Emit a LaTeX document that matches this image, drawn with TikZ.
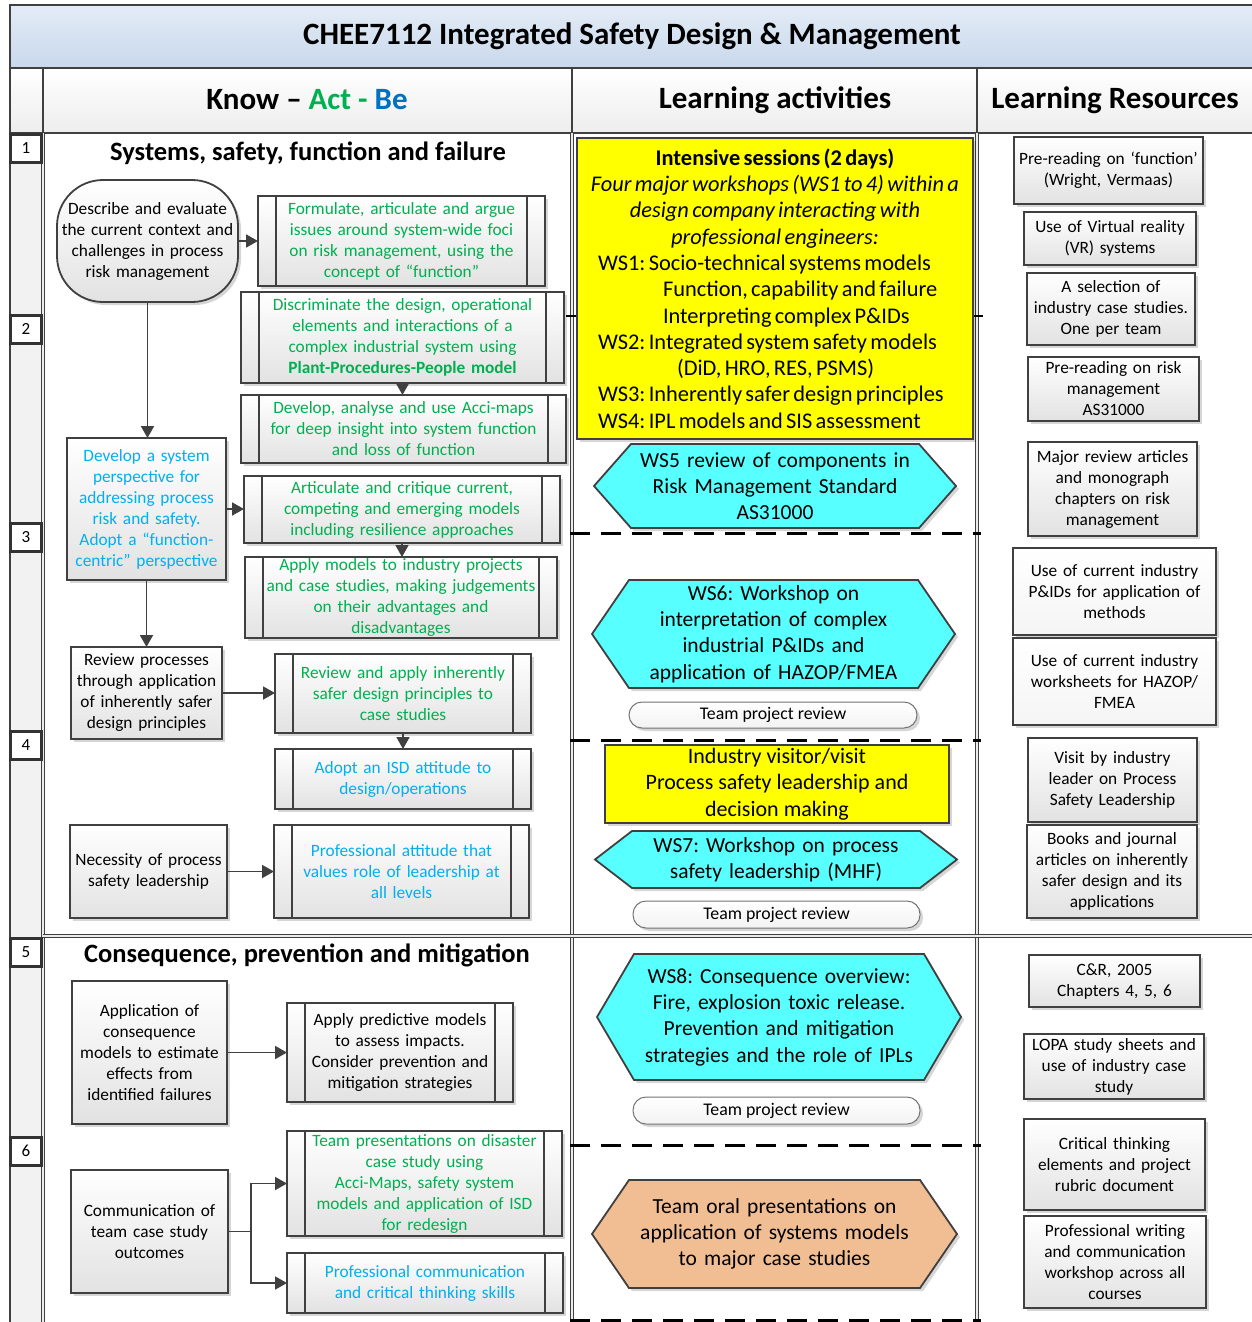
\documentclass[tikz,border=0pt]{standalone}
\usepackage{fontspec}
\setmainfont{Carlito}
\usetikzlibrary{arrows.meta,shadows,calc}
\pgfdeclarelayer{background}
\pgfsetlayers{background,main}
\frenchspacing

\definecolor{linec}{RGB}{64,64,64}
\definecolor{actgreen}{RGB}{0,176,80}
\definecolor{beblue}{RGB}{0,112,192}
\definecolor{txtblue}{RGB}{0,176,240}
\definecolor{hexcyan}{RGB}{88,255,255}
\definecolor{hexorange}{RGB}{241,190,148}
\definecolor{hexyellow}{RGB}{255,255,0}
\definecolor{boxg}{RGB}{226,226,226}
\definecolor{bandtop}{RGB}{228,236,246}
\definecolor{bandbot}{RGB}{200,216,236}

\newcommand\fsbody{\fontsize{17.3}{21}\selectfont}
\newcommand\fsbig{\fontsize{21.5}{26.3}\selectfont}
\newcommand\fsyellow{\fontsize{22.4}{26.3}\selectfont}

% hexagon outline drawn behind a named node
\newcommand\hexshape[3]{%
  \begin{pgfonlayer}{background}
    \filldraw[draw=linec, line width=1.8pt, fill=#2, softshadow]
      (#1.west) -- ([xshift=#3]#1.north west) -- ([xshift=-#3]#1.north east)
      -- (#1.east) -- ([xshift=-#3]#1.south east) -- ([xshift=#3]#1.south west) -- cycle;
  \end{pgfonlayer}}

\tikzset{
  every node/.style={inner sep=0pt, outer sep=0pt},
  softshadow/.style={drop shadow={shadow xshift=3pt, shadow yshift=-3pt, fill=black, opacity=0.16}},
  shadebox/.style={top color=white, bottom color=boxg},
  plainbox/.style={draw=linec, line width=1.8pt, shadebox, softshadow, align=center, font=\fsbody},
  procbox/.style={plainbox,
    path picture={\draw[linec, line width=1.8pt]
      ([xshift=18pt]path picture bounding box.north west) -- ([xshift=18pt]path picture bounding box.south west)
      ([xshift=-18pt]path picture bounding box.north east) -- ([xshift=-18pt]path picture bounding box.south east);}},
  resbox/.style={plainbox},
  lightres/.style={plainbox, bottom color=black!4},
  hexnode/.style={align=center, font=\fsbig},
  ybox/.style={draw=linec, line width=1.8pt, fill=hexyellow, softshadow},
  pill/.style={draw=black!55, line width=1pt, rounded corners=13pt, top color=white, bottom color=black!5, softshadow, font=\fontsize{17.8}{21}\selectfont},
  flow/.style={draw=linec, line width=1.8pt, -{Triangle[length=12pt,width=13pt]}},
  gridline/.style={draw=linec, line width=0.8pt, double=black!8, double distance=2.5pt},
  thinline/.style={draw=linec, line width=1.5pt},
  dashline/.style={draw=black, line width=3pt, dash pattern=on 20pt off 11pt},
  numbox/.style={draw=black!80, line width=3pt, fill=white, minimum width=31, minimum height=28, font=\fontsize{17}{20}\selectfont},
  headcell/.style={draw=linec, line width=1.5pt, top color=white, bottom color=black!7},
  headtext/.style={font=\fontsize{31}{35}\selectfont\bfseries},
  sectext/.style={font=\fontsize{26.5}{30}\selectfont\bfseries},
}

\begin{document}
\begin{tikzpicture}[x=1pt,y=-1pt]
\useasboundingbox (0,0) rectangle (1252,1322);
\begin{pgfonlayer}{background}
  \fill[white] (0,0) rectangle (1252,1322);
\end{pgfonlayer}

% ---------- table frame ----------
\fill[black!5] (10,133) rectangle (43,1330);
\node[draw=linec, line width=1.5pt, top color=bandtop, bottom color=bandbot,
      minimum width=1250, minimum height=63, anchor=north west] (band) at (10,5) {};
\node[headtext] (title) at (632,36) {CHEE7112 Integrated Safety Design \& Management};

\node[headcell, minimum width=33, minimum height=65, anchor=north west] (lanehead) at (10,68) {};
\node[headcell, minimum width=529, minimum height=65, anchor=north west] (knowhead) at (43,68) {};
\node[headcell, minimum width=405, minimum height=65, anchor=north west] (acthead) at (572,68) {};
\node[headcell, minimum width=285, minimum height=65, anchor=north west] (reshead) at (977,68) {};
\node[headtext] (knowtxt) at (307,100) {Know -- \textcolor{actgreen}{Act - }\textcolor{beblue}{Be}};
\node[headtext] (acttxt) at (775,100) {Learning activities};
\node[headtext] (restxt) at (1115,100) {Learning Resources};

\draw[thinline] (10,133) -- (10,1330);
\draw[gridline] (43,133) -- (43,1330);
\draw[gridline] (572,133) -- (572,1330);
\draw[gridline] (977,133) -- (977,1330);
\draw[gridline] (43,936) -- (1260,936);

% lane markers
\draw[line width=2.5pt] (566,316) -- (578,316);
\draw[line width=2.5pt] (971,316) -- (983,316);

\node[numbox] (n1) at (26,148.5) {1};
\node[numbox] (n2) at (26,329) {2};
\node[numbox] (n3) at (26,537) {3};
\node[numbox] (n4) at (26,745) {4};
\node[numbox] (n5) at (26,952) {5};
\node[numbox] (n6) at (26,1151) {6};

% phase separators in the activity column
\draw[dashline] (570,533) -- (981,533);
\draw[dashline] (570,740) -- (981,740);
\draw[dashline] (570,1145) -- (981,1145);
\draw[dashline] (570,1320) -- (981,1320);

% ---------- Know - Act - Be ----------
\node[sectext] (sec1) at (308,153) {Systems, safety, function and failure};
\node[sectext] (sec2) at (307,955) {Consequence, prevention and mitigation};

\node[plainbox, rounded corners=46pt, minimum width=181, minimum height=122, text width=177] (desc) at (147.5,241)
  {Describe and evaluate\\the current context and\\challenges in process\\risk management};
\node[procbox, text=actgreen, minimum width=287, minimum height=90, text width=247] (form) at (401.5,241)
  {Formulate, articulate and argue\\issues around system-wide foci\\on risk management, using the\\concept of “function”};
\node[procbox, text=actgreen, minimum width=323, minimum height=91, text width=284] (disc) at (402.5,337.5)
  {Discriminate the design, operational\\elements and interactions of a\\complex industrial system using\\\textbf{Plant-Procedures-People model}};
\node[procbox, text=actgreen, minimum width=325, minimum height=68, text width=287] (acci) at (403.5,429)
  {Develop, analyse and use Acci-maps\\for deep insight into system function\\and loss of function};
\node[plainbox, text=txtblue, minimum width=159, minimum height=142, text width=155] (sys) at (146.5,509)
  {Develop a system\\perspective for\\addressing process\\risk and safety.\\Adopt a “function-\\centric” perspective};
\node[procbox, text=actgreen, minimum width=316, minimum height=67, text width=278] (artic) at (402,509.5)
  {Articulate and critique current,\\competing and emerging models\\including resilience approaches};
\node[procbox, text=actgreen, minimum width=312, minimum height=81, text width=278] (apply) at (401,597.5)
  {Apply models to industry projects\\and case studies, making judgements\\on their advantages and\\disadvantages};
\node[plainbox, minimum width=151, minimum height=92, text width=149] (review) at (146.5,693)
  {Review processes\\through application\\of inherently safer\\design principles};
\node[procbox, text=actgreen, minimum width=256, minimum height=79, text width=218] (rapply) at (403,693.5)
  {Review and apply inherently\\safer design principles to\\case studies};
\node[procbox, text=txtblue, minimum width=256, minimum height=60, text width=218] (adopt) at (403,779)
  {Adopt an ISD attitude to\\design/operations};
\node[plainbox, minimum width=157, minimum height=93, text width=155] (nec) at (148.5,871.5)
  {Necessity of process\\safety leadership};
\node[procbox, text=txtblue, minimum width=255, minimum height=93, text width=217] (prof) at (401.5,871.5)
  {Professional attitude that\\values role of leadership at\\all levels};

\node[plainbox, minimum width=155, minimum height=143, text width=153] (appcons) at (149.5,1052.5)
  {Application of\\consequence\\models to estimate\\effects from\\identified failures};
\node[procbox, minimum width=226, minimum height=99, text width=190] (pred) at (400,1052.5)
  {Apply predictive models\\to assess impacts.\\Consider prevention and\\mitigation strategies};
\node[plainbox, minimum width=157, minimum height=123, text width=155] (comm) at (149.5,1231.5)
  {Communication of\\team case study\\outcomes};
\node[procbox, text=actgreen, minimum width=275, minimum height=105, text width=238] (teamp) at (424.5,1183.5)
  {Team presentations on disaster\\case study using\\Acci-Maps, safety system\\models and application of ISD\\for redesign};
\node[procbox, text=txtblue, minimum width=276, minimum height=60, text width=238] (profc) at (425,1283)
  {Professional communication\\and critical thinking skills};

% connectors
\draw[flow] (desc.east) -- (form.west);
\draw[flow] (desc.south) -- (desc.south |- sys.north);
\draw[flow] (disc.south) -- (disc.south |- acci.north);
\draw[flow] (sys.east) -- (sys.east -| artic.west);
\draw[flow] (artic.south) -- (artic.south |- apply.north);
\draw[flow] (sys.south) -- (sys.south |- review.north);
\draw[flow] (review.east) -- (review.east -| rapply.west);
\draw[flow] (rapply.south) -- (rapply.south |- adopt.north);
\draw[flow] (nec.east) -- (nec.east -| prof.west);
\draw[flow] (appcons.east) -- (appcons.east -| pred.west);
\coordinate (split) at (251,1231.5);
\draw[flow] (comm.east) -- (split) |- (teamp.west);
\draw[flow] (split) |- (profc.west);

% ---------- Learning activities ----------
\node[ybox, minimum width=396, minimum height=301, text width=388] (intens) at (775,288.5) {%
  \parindent=0pt\fsyellow
  {\centering{\bfseries Intensive sessions (2 days)}\\
   \textit{Four major workshops (WS1 to 4) within a}\\
   \textit{design company interacting with}\\
   \textit{professional engineers:}\par}
  \raggedright
  \hspace*{17pt}WS1: Socio-technical systems models\\
  \hspace*{82pt}Function, capability and failure\\
  \hspace*{82pt}Interpreting complex P\&IDs\\
  \hspace*{17pt}WS2: Integrated system safety models\\
  \hspace*{96pt}(DiD, HRO, RES, PSMS)\\
  \hspace*{17pt}WS3: Inherently safer design principles\\
  \hspace*{17pt}WS4: IPL models and SIS assessment\par};

\node[hexnode, minimum width=362, minimum height=84, text width=290] (ws5) at (775,486)
  {WS5 review of components in\\Risk Management Standard\\AS31000};
\hexshape{ws5}{hexcyan}{37pt}

\node[hexnode, minimum width=363, minimum height=108, text width=290] (ws6) at (773.5,634)
  {WS6: Workshop on\\interpretation of complex\\industrial P\&IDs and\\application of HAZOP/FMEA};
\hexshape{ws6}{hexcyan}{37pt}

\node[pill, minimum width=288, minimum height=26] (tpr1) at (773,715) {Team project review};

\node[ybox, align=center, font=\fontsize{22}{26.3}\selectfont, minimum width=344, minimum height=78] (visit) at (777,784)
  {Industry visitor/visit\\Process safety leadership and\\decision making};

\node[hexnode, minimum width=362, minimum height=57, text width=290] (ws7) at (776,859.5)
  {WS7: Workshop on process\\safety leadership (MHF)};
\hexshape{ws7}{hexcyan}{37pt}

\node[pill, minimum width=287, minimum height=27] (tpr2) at (776.5,914.5) {Team project review};

\node[hexnode, minimum width=364, minimum height=126, text width=296] (ws8) at (779,1017)
  {WS8: Consequence overview:\\Fire, explosion toxic release.\\Prevention and mitigation\\strategies and the role of IPLs};
\hexshape{ws8}{hexcyan}{37pt}

\node[pill, minimum width=287, minimum height=27] (tpr3) at (776.5,1110.5) {Team project review};

\node[hexnode, minimum width=365, minimum height=108, text width=296] (oral) at (774.5,1234)
  {Team oral presentations on\\application of systems models\\to major case studies};
\hexshape{oral}{hexorange}{37pt}

% ---------- Learning resources ----------
\node[resbox, minimum width=189, minimum height=67, text width=187] (r1) at (1108.5,170.5)
  {Pre-reading on ‘function’\\(Wright, Vermaas)};
\node[resbox, minimum width=172, minimum height=53, text width=170] (r2) at (1110,238.5)
  {Use of Virtual reality\\(VR) systems};
\node[resbox, minimum width=168, minimum height=72, text width=166] (r3) at (1111,309)
  {A selection of\\industry case studies.\\One per team};
\node[resbox, minimum width=171, minimum height=64, text width=169] (r4) at (1113.5,389)
  {Pre-reading on risk\\management\\AS31000};
\node[resbox, minimum width=169, minimum height=94, text width=167] (r5) at (1112.5,489)
  {Major review articles\\and monograph\\chapters on risk\\management};
\node[lightres, minimum width=203, minimum height=87, text width=201] (r6) at (1114.5,591.5)
  {Use of current industry\\P\&IDs for application of\\methods};
\node[lightres, minimum width=203, minimum height=87, text width=201] (r7) at (1114.5,681.5)
  {Use of current industry\\worksheets for HAZOP/\\FMEA};
\node[resbox, minimum width=169, minimum height=84, text width=167] (r8) at (1112.5,780)
  {Visit by industry\\leader on Process\\Safety Leadership};
\node[resbox, minimum width=170, minimum height=93, text width=168] (r9) at (1112,871.5)
  {Books and journal\\articles on inherently\\safer design and its\\applications};
\node[resbox, minimum width=171, minimum height=52, text width=169] (r10) at (1114.5,981)
  {C\&R, 2005\\Chapters 4, 5, 6};
\node[resbox, minimum width=180, minimum height=65, text width=178] (r11) at (1114,1066.5)
  {LOPA study sheets and\\use of industry case\\study};
\node[resbox, minimum width=181, minimum height=91, text width=179] (r12) at (1114.5,1164.5)
  {Critical thinking\\elements and project\\rubric document};
\node[resbox, minimum width=182, minimum height=92, text width=180] (r13) at (1115,1262)
  {Professional writing\\and communication\\workshop across all\\courses};

\end{tikzpicture}
\end{document}
